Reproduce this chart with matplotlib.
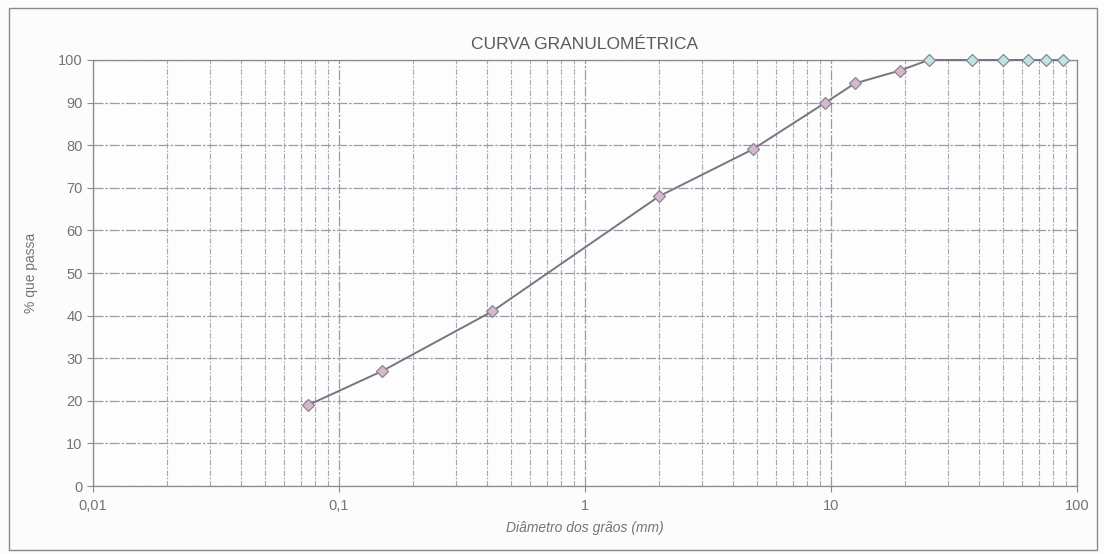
import matplotlib.pyplot as plt
from matplotlib.patches import Rectangle
from matplotlib.ticker import FixedLocator, LogLocator, NullFormatter

# Sieve openings (mm) and % passing
diametro = [0.075, 0.15, 0.42, 2.0, 4.8, 9.5, 12.5, 19.0, 25.0, 37.5, 50.0, 63.0, 75.0, 87.5]
passa = [19, 27, 41, 68, 79, 90, 94.5, 97.5, 100, 100, 100, 100, 100, 100]

xticks = [0.01, 0.1, 1, 10, 100]
xtick_labels = ["0,01", "0,1", "1", "10", "100"]
yticks = list(range(0, 101, 10))

plt.rcParams['font.family'] = ['Liberation Sans', 'DejaVu Sans']
txt = "#747474"

fig = plt.figure(figsize=(11.04, 5.54), dpi=100)
fig.patch.set_facecolor("#fcfcfc")
ax = fig.add_axes([0.0842, 0.1227, 0.8913, 0.769])
ax.set_facecolor("#fdfdfd")

# outer frame of the chart area
fig.patches.append(Rectangle((0.008, 0.008), 0.986, 0.977, transform=fig.transFigure,
                             fill=False, edgecolor="#8a8a8a", linewidth=1.0))

ax.set_xscale("log")
ax.set_xlim(0.01, 100)
ax.set_ylim(0, 100)

ax.xaxis.set_major_locator(FixedLocator(xticks))
ax.set_xticklabels(xtick_labels)
ax.xaxis.set_minor_locator(LogLocator(base=10, subs=range(2, 10)))
ax.xaxis.set_minor_formatter(NullFormatter())
ax.set_yticks(yticks)

ax.grid(True, which="major", color="#9c9ca8", linestyle=(0, (8, 1.5, 2, 1.5)), linewidth=0.9)
ax.grid(True, which="minor", axis="x", color="#a8a8b2", linestyle=(0, (5, 1.5, 1.5, 1.5)), linewidth=0.8)

# points: pinkish below 100%, cyan at 100%
ax.plot(diametro, passa, color="#7a7482", linewidth=1.4, zorder=3, clip_on=False)
for d, p in zip(diametro, passa):
    face = "#bfe6e0" if p >= 100 else "#d6b8cc"
    ax.plot(d, p, marker="D", markersize=6, markerfacecolor=face,
            markeredgecolor="#8a8494", markeredgewidth=0.9, zorder=4,
            linestyle="none", clip_on=False)

for s in ax.spines.values():
    s.set_color("#8a8a8a")
    s.set_linewidth(0.9)

ax.tick_params(axis="both", which="major", colors="#8a8a8a", labelcolor=txt,
               labelsize=10.5, length=4, direction="out")
ax.tick_params(axis="x", which="minor", length=0)
ax.tick_params(axis="x", which="major", pad=5)

ax.set_title("CURVA GRANULOMÉTRICA", fontsize=12.5, color="#5a5a5a", pad=8)
ax.set_xlabel("Diâmetro dos grãos (mm)", fontsize=10, color=txt, style="italic", labelpad=6)
ax.set_ylabel("% que passa", fontsize=10, color=txt, labelpad=14)

fig.savefig("out.png", dpi=100, facecolor=fig.get_facecolor())
